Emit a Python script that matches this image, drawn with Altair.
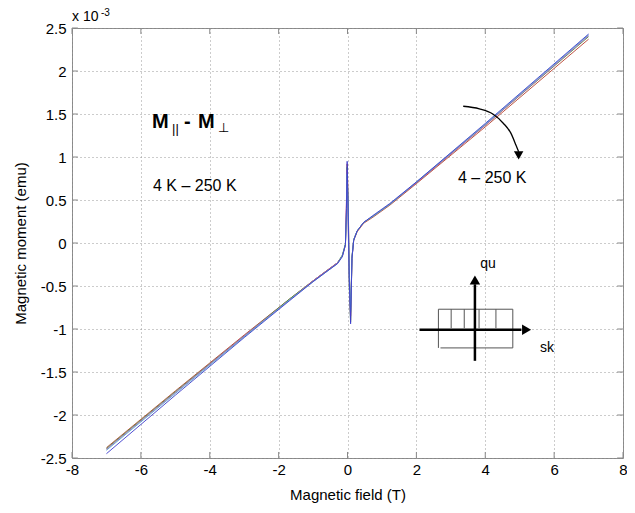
import altair as alt
import pandas as pd

# ---- data (field in T, moment in 1e-3 emu) ----
field = [-7, -5, -3, -1.68, -1, -0.63, -0.29, -0.15, -0.06, -0.03, -0.01, 0.02,
         0.05, 0.09, 0.13, 0.18, 0.28, 0.47, 0.74, 1.23, 2, 4, 7]
m_red = [-2.38, -1.72, -1.07, -0.65, -0.44, -0.33, -0.23, -0.15, -0.02, 0.45, 0.92, 0.50,
         -0.30, -0.90, -0.17, 0.03, 0.13, 0.23, 0.30, 0.44, 0.69, 1.35, 2.37]
m_green = [-2.39, -1.73, -1.08, -0.65, -0.44, -0.33, -0.23, -0.14, -0.01, 0.35, 0.88, 0.30,
           -0.50, -0.92, -0.16, 0.04, 0.14, 0.24, 0.31, 0.45, 0.70, 1.37, 2.40]
m_magenta = [-2.40, -1.74, -1.08, -0.66, -0.44, -0.33, -0.23, -0.15, -0.03, 0.50, 0.85, 0.20,
             -0.45, -0.85, -0.18, 0.04, 0.14, 0.24, 0.31, 0.45, 0.70, 1.37, 2.41]
m_cyan = [-2.41, -1.75, -1.09, -0.66, -0.45, -0.34, -0.24, -0.15, -0.02, 0.30, 0.80, 0.45,
          -0.35, -0.80, -0.17, 0.04, 0.14, 0.24, 0.31, 0.45, 0.71, 1.38, 2.42]
m_blue = [-2.45, -1.77, -1.10, -0.67, -0.45, -0.34, -0.24, -0.16, -0.02, 0.40, 0.95, 0.35,
          -0.40, -0.94, -0.18, 0.03, 0.14, 0.24, 0.32, 0.46, 0.71, 1.39, 2.43]

series = {"red": m_red, "green": m_green, "magenta": m_magenta,
          "cyan": m_cyan, "blue": m_blue}
colors = ["#b8402e", "#3a9a3a", "#c050c0", "#50b0c8", "#3c3ccc"]

x_ticks = [-8, -6, -4, -2, 0, 2, 4, 6, 8]
y_ticks = [-2.5, -2, -1.5, -1, -0.5, 0, 0.5, 1, 1.5, 2, 2.5]

rows = []
for name, vals in series.items():
    for fx, m in zip(field, vals):
        rows.append({"field": fx, "moment": m, "series": name})
df = pd.DataFrame(rows)

FONT = "Liberation Sans"
PL, PT = 72, 28  # plot origin on page
W, H = 551, 430

xs = alt.Scale(domain=[-8, 8], nice=False, zero=False)
ys = alt.Scale(domain=[-2.5, 2.5], nice=False, zero=False)

axis_style = dict(labelFont=FONT, titleFont=FONT, labelFontSize=15, titleFontSize=15,
                  labelColor="black", titleColor="black", titleFontWeight="normal",
                  grid=True, gridDash=[1, 3], gridColor="#999999",
                  ticks=False, domain=False, labelFlush=False,
                  labelExpr="datum.value + ''")

lines = alt.Chart(df).mark_line(strokeWidth=1, opacity=0.9).encode(
    x=alt.X("field:Q", scale=xs,
            axis=alt.Axis(title="Magnetic field (T)", values=x_ticks,
                          labelPadding=4, titlePadding=10, **axis_style)),
    y=alt.Y("moment:Q", scale=ys,
            axis=alt.Axis(title="Magnetic moment (emu)", values=y_ticks,
                          labelPadding=6, titlePadding=12, **axis_style)),
    color=alt.Color("series:N", scale=alt.Scale(domain=list(series.keys()), range=colors),
                    legend=None),
    detail="series:N",
)

# inward tick marks
tl = 0.07
tx = 0.17
tick_rows = []
for v in x_ticks:
    tick_rows.append({"x": v, "x2": v, "y": -2.5, "y2": -2.5 + tl})
    tick_rows.append({"x": v, "x2": v, "y": 2.5, "y2": 2.5 - tl})
for v in y_ticks:
    tick_rows.append({"x": -8, "x2": -8 + tx, "y": v, "y2": v})
    tick_rows.append({"x": 8, "x2": 8 - tx, "y": v, "y2": v})
ticks = alt.Chart(pd.DataFrame(tick_rows)).mark_rule(color="#888888", strokeWidth=1).encode(
    x=alt.X("x:Q", scale=xs), x2="x2:Q", y=alt.Y("y:Q", scale=ys), y2="y2:Q")

# inset diagram
rect_rows = [
    {"x": 2.64, "x2": 4.80, "y": -0.77, "y2": -0.77},
    {"x": 2.70, "x2": 4.80, "y": -1.22, "y2": -1.22},
    {"x": 2.64, "x2": 2.64, "y": -0.77, "y2": -1.22},
    {"x": 4.80, "x2": 4.80, "y": -0.77, "y2": -1.22},
]
for hx in [3.01, 3.39, 3.82, 4.31]:
    rect_rows.append({"x": hx, "x2": hx, "y": -0.77, "y2": -0.99})
rect = alt.Chart(pd.DataFrame(rect_rows)).mark_rule(color="#555555", strokeWidth=1).encode(
    x=alt.X("x:Q", scale=xs), x2="x2:Q", y=alt.Y("y:Q", scale=ys), y2="y2:Q")

axes_rows = [
    {"x": 2.09, "x2": 5.05, "y": -1.01, "y2": -1.01},
    {"x": 3.70, "x2": 3.70, "y": -1.37, "y2": -0.48},
]
inset_axes = alt.Chart(pd.DataFrame(axes_rows)).mark_rule(color="black", strokeWidth=2.5).encode(
    x=alt.X("x:Q", scale=xs), x2="x2:Q", y=alt.Y("y:Q", scale=ys), y2="y2:Q")

head_r = alt.Chart(pd.DataFrame({"x": [5.2], "y": [-1.01]})).mark_point(
    shape="triangle-right", filled=True, color="black", size=110, opacity=1).encode(
    x=alt.X("x:Q", scale=xs), y=alt.Y("y:Q", scale=ys))
head_u = alt.Chart(pd.DataFrame({"x": [3.70], "y": [-0.43]})).mark_point(
    shape="triangle-up", filled=True, color="black", size=110, opacity=1).encode(
    x=alt.X("x:Q", scale=xs), y=alt.Y("y:Q", scale=ys))

# curved arrow
arc_x = [3.36, 3.83, 4.22, 4.53, 4.74, 4.89, 4.97]
arc_y = [1.59, 1.56, 1.50, 1.39, 1.28, 1.14, 1.06]
arc = alt.Chart(pd.DataFrame({"x": arc_x, "y": arc_y})).mark_line(
    color="black", strokeWidth=1.3, interpolate="monotone").encode(
    x=alt.X("x:Q", scale=xs), y=alt.Y("y:Q", scale=ys))
head_d = alt.Chart(pd.DataFrame({"x": [4.97], "y": [1.02]})).mark_point(
    shape="triangle-down", filled=True, color="black", size=90, opacity=1).encode(
    x=alt.X("x:Q", scale=xs), y=alt.Y("y:Q", scale=ys))


def annot(text, px, py, size, bold=False, align="left", baseline="alphabetic"):
    return alt.Chart(pd.DataFrame({"t": [text]})).mark_text(
        font=FONT, fontSize=size, fontWeight="bold" if bold else "normal",
        align=align, baseline=baseline, color="black").encode(
        x=alt.value(px - PL), y=alt.value(py - PT), text="t:N")


texts = [
    annot("M", 152, 128, 20, bold=True),
    annot("||", 172, 133, 13),
    annot("-", 184, 128, 20, bold=True),
    annot("M", 198, 128, 20, bold=True),
    annot("⊥", 218, 132, 13),
    annot("4 K – 250 K", 153, 191, 16),
    annot("4 – 250 K", 458, 183, 16),
    annot("qu", 488, 268, 14, align="center"),
    annot("sk", 547, 352, 14, align="center"),
    annot("x 10", 72, 21, 14),
    annot("-3", 101, 16, 10),
]

chart = alt.layer(lines, ticks, rect, inset_axes, head_r, head_u, arc, head_d, *texts).properties(
    width=W, height=H,
    background="white",
    autosize=alt.AutoSizeParams(type="none"),
    padding={"left": PL - 8, "top": PT - 8, "right": 4, "bottom": 45},
).configure_view(stroke="#888888", strokeWidth=1)

chart.save("out.html", embed_options={"renderer": "svg", "actions": False})
